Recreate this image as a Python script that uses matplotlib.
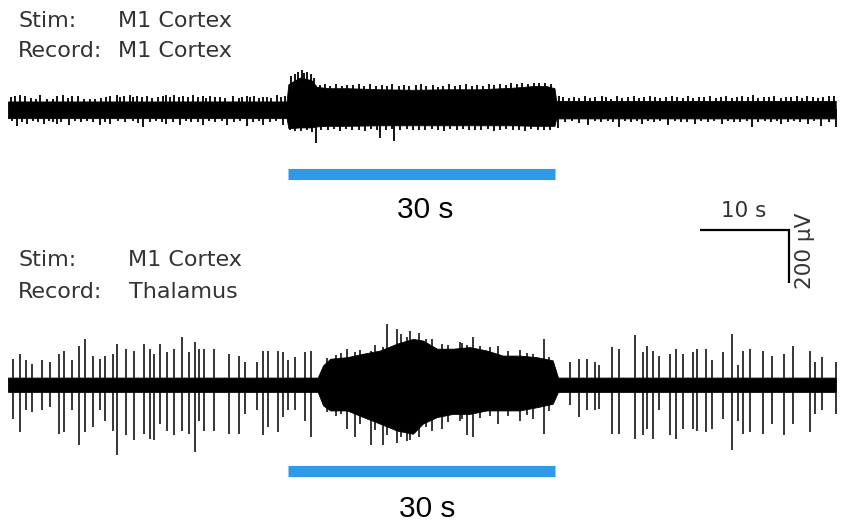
import numpy as np
import matplotlib.pyplot as plt

plt.rcParams['font.family'] = ['Liberation Sans', 'DejaVu Sans']

#-------------------------------------------------------------------------------
#DATA  (time in s, amplitude in uV relative to trace baseline)

stim_on, stim_off = 31.5, 61.5

#M1 stim -> M1 record: dense band envelope
m1_env_t  = [0, 31.3, 31.5, 32.0, 32.8, 33.5, 34.1, 34.7, 36.0, 38.1, 41.8, 45.5,
             49.3, 53.0, 56.8, 59.0, 60.5, 61.4, 61.6, 93.0]
m1_env_hi = [30, 30, 95, 105, 120, 115, 110, 85, 80, 80, 76, 74, 76, 76, 82, 88,
             88, 80, 32, 32]
m1_env_lo = [33, 33, 70, 70, 68, 68, 68, 64, 62, 62, 60, 60, 60, 60, 60, 62, 62,
             62, 34, 34]

#M1 record: upward excursions out of the band
m1_up_t = [0.3, 0.8, 1.3, 1.9, 2.6, 3.1, 3.6, 4.4, 5.0, 5.5, 6.2, 6.7, 7.2, 7.9, 8.5,
           9.2, 9.8, 10.5, 11.0, 11.5, 12.2, 12.6, 13.0, 13.7, 14.1, 14.5, 15.0, 15.6,
           16.2, 16.9, 17.4, 17.8, 18.2, 18.6, 19.2, 19.7, 20.2, 20.8, 21.4, 21.9,
           22.3, 22.7, 23.3, 23.8, 24.4, 25.3, 25.9, 26.3, 26.8, 27.2, 27.6, 28.2,
           28.7, 29.1, 29.6, 30.2, 30.7, 31.1,
           31.8, 32.3, 32.6, 33.0, 33.3, 33.6, 34.0, 34.4, 35.0, 35.6, 36.2, 36.9,
           37.5, 38.1, 38.8, 39.4, 40.0, 40.7, 41.3, 42.0, 42.6, 43.2, 43.9, 44.5,
           45.1, 45.8, 46.4, 47.0, 47.7, 48.3, 48.9, 49.6, 50.2, 50.8, 51.5, 52.1,
           52.7, 53.4, 54.0, 54.6, 55.3, 55.9, 56.5, 57.2, 57.8, 58.4, 59.1, 59.7,
           60.3, 61.0,
           61.9, 62.4, 63.0, 63.6, 64.2, 64.8, 65.4, 66.0, 66.7, 67.2, 67.8, 68.4,
           69.0, 69.7, 70.3, 70.9, 71.5, 72.1, 72.7, 73.3, 73.9, 74.6, 75.2, 75.8,
           76.4, 77.0, 77.6, 78.2, 78.9, 79.5, 80.1, 80.7, 81.3, 81.9, 82.5, 83.1,
           83.7, 84.3, 84.9, 85.5, 86.1, 86.8, 87.4, 88.0, 88.6, 89.2, 89.8, 90.4,
           91.0, 91.6, 92.2, 92.8]
m1_up_v = [48, 52, 55, 50, 42, 40, 53, 41, 40, 51, 53, 44, 49, 50, 38,
           40, 41, 44, 47, 52, 55, 46, 50, 54, 47, 52, 45, 50,
           44, 48, 51, 53, 47, 55, 46, 50, 45, 54, 47, 52,
           44, 50, 45, 48, 42, 50, 44, 47, 52, 46, 50, 43,
           45, 48, 44, 55, 47, 50,
           125, 132, 140, 149, 138, 140, 135, 118, 92, 95, 90, 94,
           88, 93, 91, 96, 89, 94, 90, 92, 87, 95, 90, 93,
           88, 91, 94, 89, 92, 86, 90, 94, 88, 92, 95, 89,
           93, 90, 94, 91, 96, 92, 98, 95, 100, 97, 101, 98,
           100, 96,
           52, 45, 42, 48, 44, 50, 43, 47, 52, 45, 41, 49,
           44, 46, 51, 43, 47, 50, 45, 42, 48, 52, 46, 44,
           49, 42, 47, 45, 50, 44, 48, 51, 43, 46, 49, 45,
           53, 44, 48, 46, 50, 43, 47, 45, 49, 44, 51, 46,
           43, 48, 50, 52]

#M1 record: downward excursions out of the band
m1_dn_t = [0.5, 1.0, 1.6, 2.1, 2.8, 3.4, 4.0, 4.6, 5.1, 5.5, 6.0, 6.8, 7.5, 8.2, 8.9,
           9.6, 10.3, 10.9, 11.5, 12.4, 13.2, 14.0, 14.6, 15.2, 15.9, 16.6, 17.3,
           17.8, 18.5, 19.3, 20.0, 20.6, 21.3, 21.9, 22.6, 23.3, 24.0, 24.6, 25.4,
           26.1, 26.8, 27.5, 28.2, 28.7, 29.4, 30.1, 30.9,
           31.7, 32.2, 32.9, 33.6, 34.2, 34.6, 35.2, 35.9, 36.6, 37.3, 38.0, 38.7,
           39.4, 40.1, 40.8, 41.5, 41.8, 42.5, 43.1, 43.4, 44.1, 44.8, 45.5, 46.2,
           46.9, 47.6, 48.3, 49.0, 49.7, 50.4, 51.1, 51.8, 52.5, 53.2, 53.9, 54.6,
           55.3, 56.0, 56.7, 57.4, 58.1, 58.8, 59.5, 60.2, 60.9,
           61.8, 62.6, 63.4, 64.2, 65.2, 65.9, 66.6, 67.4, 68.0, 68.6, 69.3, 70.0,
           70.7, 71.2, 71.9, 72.6, 73.3, 74.2, 74.9, 75.6, 76.3, 77.2, 77.9, 78.6,
           79.3, 80.2, 80.9, 81.6, 82.3, 83.0, 83.6, 84.3, 85.0, 85.7, 86.4, 86.9,
           87.6, 88.3, 89.0, 89.9, 90.6, 91.4, 92.2, 93.0]
m1_dn_v = [45, 62, 48, 55, 44, 47, 55, 43, 49, 55, 46, 58, 44, 48, 45,
           47, 58, 46, 55, 44, 48, 45, 50, 68, 46, 44, 49,
           55, 47, 58, 45, 48, 46, 60, 44, 47, 45, 60, 48,
           45, 62, 46, 44, 58, 47, 45, 60,
           78, 80, 82, 79, 84, 126, 76, 78, 74, 80, 75, 78,
           76, 82, 74, 77, 108, 79, 75, 121, 77, 74, 79, 76,
           78, 73, 77, 80, 75, 78, 74, 79, 76, 78, 74, 80,
           77, 75, 79, 76, 80, 74, 78, 76, 79,
           70, 46, 44, 50, 58, 45, 48, 43, 47, 65, 44, 49,
           45, 56, 43, 47, 45, 57, 44, 48, 46, 55, 43, 47,
           45, 56, 44, 48, 46, 44, 65, 47, 45, 49, 44, 55,
           46, 43, 48, 56, 45, 62, 47, 65]

#M1 stim -> thalamus record: dense band envelope
th_env_t  = [0, 34.8, 35.4, 36.2, 38.1, 39.9, 41.8, 43.7, 45.5, 46.6, 48.2, 50.0,
             51.9, 53.8, 55.6, 57.5, 59.4, 61.2, 61.8, 93.0]
th_env_hi = [26, 26, 72, 97, 103, 116, 128, 154, 172, 166, 135, 135, 141, 128,
             109, 109, 103, 91, 26, 26]
th_env_lo = [28, 28, 79, 98, 98, 123, 148, 174, 186, 148, 123, 111, 111, 98, 98,
             98, 86, 73, 28, 28]

#M1 stim -> thalamus record: unit spikes (up and down extent)
th_spk_t  = [0.6, 1.3, 2.0, 2.7, 3.8, 4.7, 5.7, 6.3, 7.2, 8.0, 8.7, 9.6, 10.3,
             10.9, 11.8, 12.2, 13.3, 14.2, 15.3, 16.0, 16.4, 17.1, 17.9, 18.7,
             19.6, 20.3, 21.0, 21.5, 22.0, 23.1, 24.8, 26.0, 26.6, 28.0, 28.7,
             29.2, 30.3, 30.9, 31.5, 32.2, 33.4, 34.0,
             35.8, 36.8, 37.4, 38.1, 39.0, 39.5, 40.8, 41.2, 42.1, 42.6, 43.7,
             44.2, 44.8, 45.2, 46.2, 47.0, 47.6, 48.8, 49.4, 50.8, 51.0, 51.6,
             52.2, 53.0, 54.2, 55.1, 56.2, 57.5, 58.3, 59.0, 60.2, 60.8,
             63.1, 64.2, 65.1, 66.0, 66.4, 67.9, 68.7, 70.4, 71.3, 71.8, 72.5,
             73.1, 74.4, 75.1, 75.8, 77.0, 77.4, 78.4, 79.1, 80.3, 81.3, 82.0,
             82.6, 83.4, 84.8, 85.8, 87.2, 88.2, 90.1, 90.7, 91.5, 93.0]
th_spk_up = [97, 116, 91, 78, 91, 84, 116, 128, 91, 147, 172, 109, 97,
             109, 116, 154, 135, 128, 154, 135, 116, 154, 122, 135,
             179, 122, 160, 135, 135, 135, 116, 109, 84, 84, 128,
             128, 128, 122, 91, 103, 122, 128,
             100, 110, 120, 135, 122, 130, 128, 150, 141, 228, 210,
             190, 180, 200, 195, 170, 172, 154, 150, 160, 155, 150,
             179, 145, 140, 147, 125, 130, 120, 115, 172, 105,
             84, 97, 97, 84, 72, 141, 135, 185, 122, 147, 128,
             109, 116, 135, 116, 122, 135, 135, 91, 122, 191, 72,
             128, 135, 128, 109, 116, 147, 128, 84, 103, 84]
th_spk_dn = [130, 180, 98, 104, 98, 86, 186, 180, 98, 230, 180, 161, 98,
             136, 174, 268, 192, 211, 186, 205, 211, 148, 174, 192,
             174, 186, 255, 136, 174, 174, 186, 186, 111, 98, 192,
             161, 180, 123, 98, 98, 136, 199,
             105, 120, 110, 167, 199, 150, 230, 170, 230, 190, 220,
             200, 215, 210, 200, 160, 175, 167, 140, 136, 130, 192,
             199, 125, 120, 148, 120, 136, 115, 130, 186, 100,
             79, 123, 98, 98, 92, 186, 186, 205, 192, 167, 205,
             98, 192, 205, 167, 167, 174, 180, 167, 130, 249, 136,
             186, 180, 186, 148, 192, 148, 180, 111, 98, 111]

#-------------------------------------------------------------------------------
#LAYOUT

uv_per_px = 200 / 53.0
s_per_px = 1 / 8.9
off_m1, off_th = 1557, 519
bar_y_m1, bar_y_th = 1315, 191
bar_color = '#2F9BE6'
label_color = '#333333'
label_font = ['DejaVu Sans']

fig = plt.figure(figsize=(8.46, 5.22), dpi=100)
ax = fig.add_axes([0, 0, 1, 1])
ax.set_xlim(-8 * s_per_px, 838 * s_per_px)
ax.set_ylim(0, 522 * uv_per_px)
ax.axis('off')

def seg(t, v):
    n = min(len(t), len(v))
    return np.array(t[:n]), np.array(v[:n])

#M1 trace
ax.fill_between(m1_env_t, off_m1 - np.array(m1_env_lo), off_m1 + np.array(m1_env_hi),
                color='k', lw=0.6)
t, v = seg(m1_up_t, m1_up_v)
ax.vlines(t, off_m1, off_m1 + v, color='k', lw=1.3)
t, v = seg(m1_dn_t, m1_dn_v)
ax.vlines(t, off_m1 - v, off_m1, color='k', lw=1.3)

#thalamus trace
ax.fill_between(th_env_t, off_th - np.array(th_env_lo), off_th + np.array(th_env_hi),
                color='k', lw=0.6)
n = min(len(th_spk_t), len(th_spk_up), len(th_spk_dn))
ax.vlines(th_spk_t[:n], off_th - np.array(th_spk_dn[:n]), off_th + np.array(th_spk_up[:n]),
          color='k', lw=1.1)

#stimulation bars
for y in [bar_y_m1, bar_y_th]:
    ax.plot([stim_on, stim_off], [y, y], color=bar_color, lw=8, solid_capstyle='butt')
ax.text((stim_on + stim_off) / 2 + 0.4, 1147, '30 s', fontsize=21.5, ha='center', va='baseline')
ax.text((stim_on + stim_off) / 2 + 0.6, 19, '30 s', fontsize=21.5, ha='center', va='baseline')

#scale bar
sb_t0, sb_y0 = 77.7, 1102
ax.plot([sb_t0, sb_t0 + 10, sb_t0 + 10], [sb_y0, sb_y0, sb_y0 - 200], color='k', lw=1.6,
        solid_joinstyle='miter', solid_capstyle='butt')
ax.text(sb_t0 + 5.0, 1151, '10 s', fontsize=15.5, ha='center', va='baseline',
        color=label_color, family=label_font)
ax.text(sb_t0 + 11.9, sb_y0 - 80, '200 µV', fontsize=15.5, ha='center', va='center',
        rotation=90, color=label_color, family=label_font)

#trace labels
x0 = 10 * s_per_px
for y, a, b, xb in [(1868, 'Stim:', 'M1 Cortex', 110), (1755, 'Record:', 'M1 Cortex', 110),
                    (967, 'Stim:', 'M1 Cortex', 120), (845, 'Record:', 'Thalamus', 121)]:
    ax.text(x0, y, a, fontsize=16, ha='left', va='baseline', color=label_color, family=label_font)
    ax.text(xb * s_per_px, y, b, fontsize=16, ha='left', va='baseline', color=label_color,
            family=label_font)

fig.savefig('out.png', dpi=100)
